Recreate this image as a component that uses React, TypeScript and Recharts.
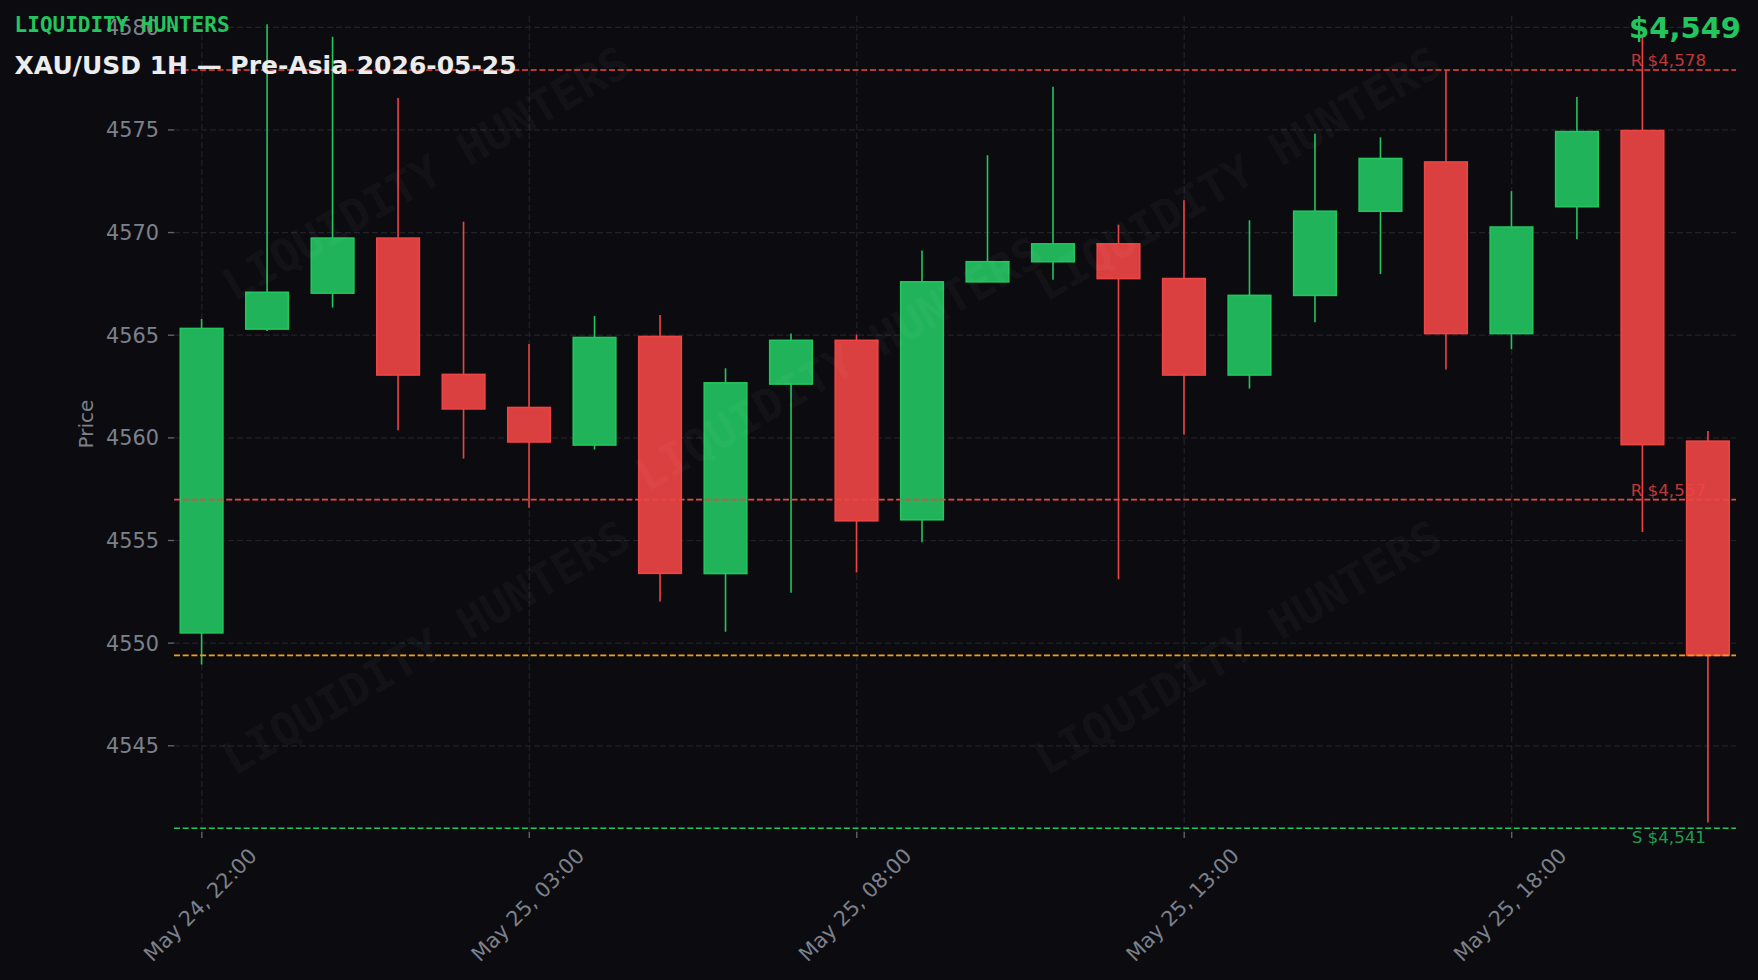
import { Bar, CartesianGrid, ComposedChart, ReferenceLine, XAxis, YAxis } from 'recharts';

// XAU/USD hourly candles, May 24 22:00 -> May 25 21:00
const hours = [
  '22:00', '23:00', '00:00', '01:00', '02:00', '03:00', '04:00', '05:00',
  '06:00', '07:00', '08:00', '09:00', '10:00', '11:00', '12:00', '13:00',
  '14:00', '15:00', '16:00', '17:00', '18:00', '19:00', '20:00', '21:00',
];
const opens = [4550.5, 4565.3, 4567.05, 4569.73, 4563.09, 4561.48, 4559.65, 4564.94, 4553.39, 4562.62, 4564.75, 4556.01, 4567.6, 4568.58, 4569.45, 4567.76, 4563.06, 4566.94, 4571.04, 4573.44, 4565.08, 4571.26, 4574.97, 4559.84];
const highs = [4565.79, 4580.15, 4579.54, 4576.56, 4570.53, 4564.57, 4565.94, 4565.98, 4563.39, 4565.08, 4565.03, 4569.13, 4573.77, 4577.1, 4570.38, 4571.58, 4570.6, 4574.81, 4574.64, 4577.92, 4572.02, 4576.61, 4579.6, 4560.33];
const lows = [4548.96, 4565.2, 4566.35, 4560.37, 4558.99, 4556.6, 4559.43, 4552.03, 4550.55, 4552.46, 4553.44, 4554.92, 4567.6, 4567.7, 4553.11, 4560.16, 4562.4, 4565.63, 4567.98, 4563.33, 4564.32, 4569.67, 4555.41, 4541.26];
const closes = [4565.33, 4567.09, 4569.73, 4563.06, 4561.41, 4559.8, 4564.89, 4553.4, 4562.68, 4564.75, 4555.96, 4567.6, 4568.58, 4569.45, 4567.76, 4563.06, 4566.94, 4571.04, 4573.61, 4565.08, 4570.27, 4574.92, 4559.67, 4549.4];

const xTicks = [0, 5, 10, 15, 20];
const xTickLabels = ['May 24, 22:00', 'May 25, 03:00', 'May 25, 08:00', 'May 25, 13:00', 'May 25, 18:00'];
const yTicks = [4545, 4550, 4555, 4560, 4565, 4570, 4575, 4580];

const resistance = [4577.92, 4556.99];
const resistanceLabels = ['R $4,578', 'R $4,557'];
const support = 4540.98;
const supportLabel = 'S $4,541';
const lastPrice = 4549.4;
const lastPriceLabel = '$4,549';

const data = hours.map((h, i) => ({
  i,
  hour: h,
  open: opens[i],
  high: highs[i],
  low: lows[i],
  close: closes[i],
}));

const UP = '#22c55e';
const UP_FILL = '#21b35a';
const DOWN = '#ef4444';
const DOWN_FILL = '#da4040';
const BG = '#0c0c10';
const GRID = '#202129';
const MUTED = '#7c818c';
const FONT = '"DejaVu Sans", sans-serif';

function Candle(props: any) {
  const { x, y, width, height, payload } = props;
  const { open, close, high, low } = payload;
  const up = close >= open;
  const k = height / (high - low);
  const yOf = (v: number) => y + (high - v) * k;
  const cx = x + width / 2;
  const bw = 42.6;
  const top = yOf(Math.max(open, close));
  const bot = yOf(Math.min(open, close));
  const edge = up ? UP : DOWN;
  return (
    <g>
      <line x1={cx} x2={cx} y1={yOf(high)} y2={yOf(low)} stroke={edge} strokeWidth={1.6} />
      <rect x={cx - bw / 2} y={top} width={bw} height={Math.max(bot - top, 1)} fill={up ? UP_FILL : DOWN_FILL} stroke={edge} strokeWidth={1.6} />
    </g>
  );
}

function DateTick(props: any) {
  const { x, y, payload } = props;
  const idx = xTicks.indexOf(payload.value);
  return (
    <g transform={`translate(${x - 1.5},${y + 67})`}>
      <text transform="rotate(-45)" textAnchor="middle" dominantBaseline="central" fill={MUTED} fontSize={20.8} fontFamily={FONT}>
        {xTickLabels[idx]}
      </text>
    </g>
  );
}

const levelLabel = (text: string, color: string, below: boolean) => (p: any) => {
  const vb = p.viewBox;
  return (
    <text x={vb.x + vb.width - 30} y={vb.y + (below ? 9 : -10)} textAnchor="end" dominantBaseline="central" fill={color} fillOpacity={0.8} fontSize={16.7} fontFamily={FONT}>
      {text}
    </text>
  );
};

const watermarks = [
  [426, 174],
  [1238, 174],
  [839, 364],
  [426, 648],
  [1238, 648],
];

export default function App() {
  return (
    <div style={{ position: 'fixed', left: 0, top: 0, width: 1758, height: 980, background: BG }}>
      <ComposedChart width={1758} height={980} data={data} margin={{ top: 16, right: 22, bottom: 0, left: 0 }}>
        <CartesianGrid stroke={GRID} strokeDasharray="6 3" strokeWidth={1.2} syncWithTicks />
        <XAxis
          dataKey="i"
          type="number"
          domain={[-0.425, 23.425]}
          ticks={xTicks}
          interval={0}
          height={148}
          axisLine={false}
          tickLine={{ stroke: '#5d626d', strokeWidth: 1.4 }}
          tickSize={6}
          tickMargin={0}
          tick={<DateTick />}
        />
        <YAxis
          type="number"
          domain={[4540.8, 4580.55]}
          ticks={yTicks}
          allowDataOverflow
          width={174}
          axisLine={false}
          tickLine={{ stroke: '#5d626d', strokeWidth: 1.4 }}
          tickSize={6}
          tickMargin={9}
          tick={{ fill: MUTED, fontSize: 20.8, fontFamily: FONT }}
          label={(p: any) => {
            const vb = p.viewBox;
            const cy = vb.y + vb.height / 2;
            return (
              <text x={86} y={cy} transform={`rotate(-90, 86, ${cy})`} textAnchor="middle" dominantBaseline="central" fill={MUTED} fontSize={20} fontFamily={FONT}>
                Price
              </text>
            );
          }}
        />
        <ReferenceLine y={resistance[0]} stroke={DOWN} strokeWidth={1.6} strokeDasharray="6 2.7" label={levelLabel(resistanceLabels[0], DOWN, false)} />
        <ReferenceLine y={resistance[1]} stroke={DOWN} strokeWidth={1.6} strokeDasharray="6 2.7" label={levelLabel(resistanceLabels[1], DOWN, false)} />
        <ReferenceLine y={support} stroke={UP} strokeWidth={1.6} strokeDasharray="6 2.7" label={levelLabel(supportLabel, UP, true)} />
        <ReferenceLine y={lastPrice} stroke="#f59e0b" strokeWidth={1.8} strokeDasharray="6 2.7" />
        <Bar dataKey={(d: any) => [d.low, d.high]} barSize={43} shape={<Candle />} isAnimationActive={false} />
      </ComposedChart>
      <svg width={1758} height={980} style={{ position: 'absolute', left: 0, top: 0, pointerEvents: 'none' }}>
        {watermarks.map(([wx, wy], k) => (
          <text
            key={k}
            x={wx}
            y={wy}
            transform={`rotate(-30, ${wx}, ${wy})`}
            textAnchor="middle"
            dominantBaseline="central"
            fill="#ffffff"
            fillOpacity={0.045}
            fontSize={45}
            fontWeight="bold"
            fontFamily='"DejaVu Sans Mono", monospace'
          >
            LIQUIDITY HUNTERS
          </text>
        ))}
        <text x={14.6} y={24.7} dominantBaseline="central" fill={UP} fontSize={21} fontWeight="bold" fontFamily='"DejaVu Sans Mono", monospace'>
          LIQUIDITY HUNTERS
        </text>
        <text x={14.6} y={65} dominantBaseline="central" fill="#ececec" fontSize={25} fontWeight="bold" fontFamily={FONT}>
          XAU/USD 1H — Pre-Asia 2026-05-25
        </text>
        <text x={1741} y={28} textAnchor="end" dominantBaseline="central" fill={UP} fontSize={29} fontWeight="bold" fontFamily={FONT}>
          {lastPriceLabel}
        </text>
      </svg>
    </div>
  );
}
